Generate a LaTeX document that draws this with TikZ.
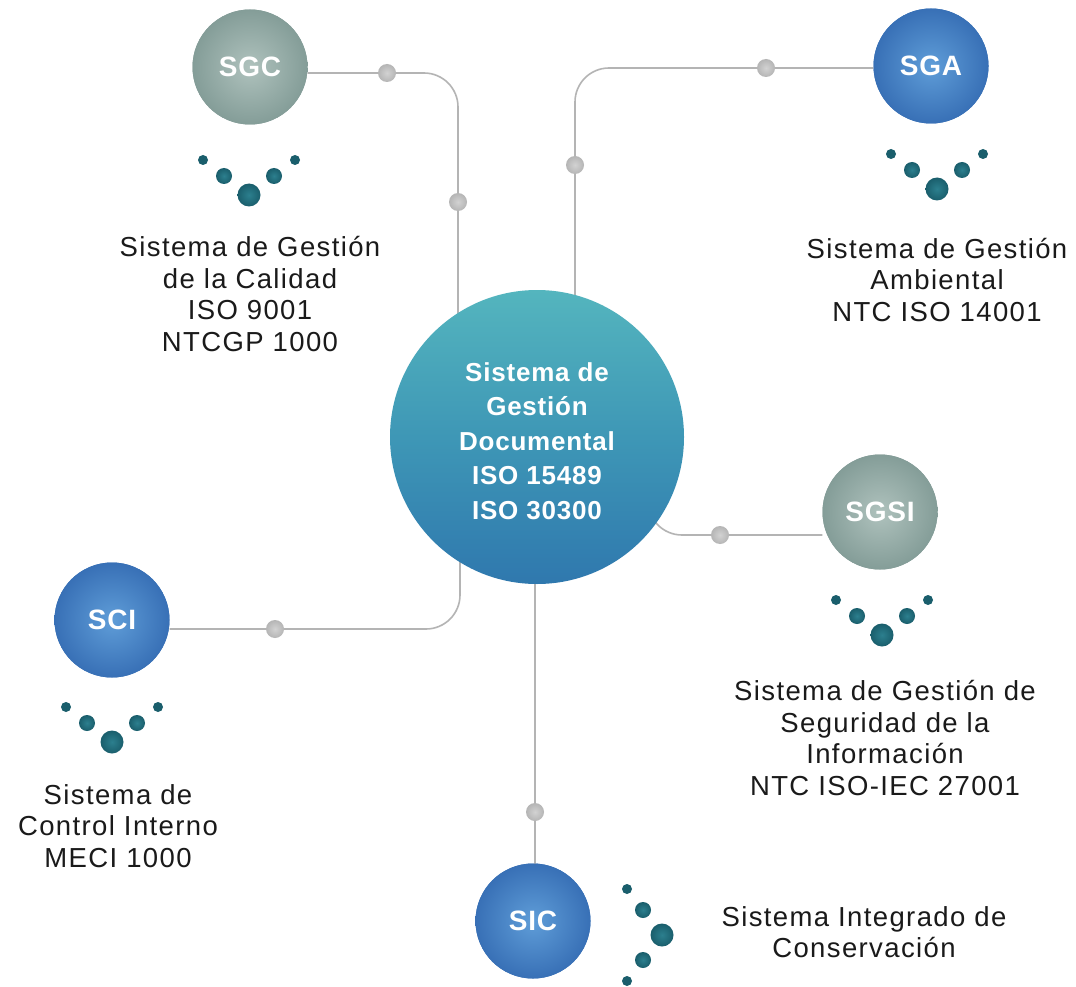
\documentclass[tikz,border=0pt]{standalone}
\usepackage{fontspec}
\setmainfont{Liberation Sans}
\newfontfamily\labfont{Liberation Sans}[LetterSpace=5]
\newfontfamily\ballfont{Liberation Sans}[LetterSpace=3]
\definecolor{linegray}{HTML}{B4B4B4}
\definecolor{knobin}{HTML}{D2D2D2}
\definecolor{knobout}{HTML}{B5B5B5}
\definecolor{grayin}{HTML}{AFC2BD}
\definecolor{grayout}{HTML}{849D98}
\definecolor{bluein}{HTML}{5F9DD8}
\definecolor{blueout}{HTML}{3870B6}
\definecolor{centtop}{HTML}{54B5BE}
\definecolor{centmid}{HTML}{3E97B6}
\definecolor{centbot}{HTML}{2F78AE}
\definecolor{dotc}{HTML}{1A5E6C}
\definecolor{dotin}{HTML}{2C7F8E}
\definecolor{txt}{HTML}{1A1A1A}
\begin{document}
\begin{tikzpicture}[x=1pt,y=-1pt,
  conn/.style={draw=linegray, line width=1.6pt, rounded corners=34pt},
  knob/.style={circle, inner sep=0pt, minimum size=18pt, inner color=knobin, outer color=knobout},
  ballbase/.style={circle, inner sep=0pt, minimum size=115pt, text=white,
     font=\ballfont\fontsize{28}{30}\selectfont\bfseries},
  grayball/.style={ballbase, inner color=grayin, outer color=grayout},
  blueball/.style={ballbase, inner color=bluein, outer color=blueout},
  lab/.style={align=center, text=txt, font=\labfont\fontsize{27.5}{31.6}\selectfont},
  cluster/.pic={
    \fill[dotc] (-46,-35) circle[radius=5];
    \fill[dotc] (46,-35) circle[radius=5];
    \shade[inner color=dotin, outer color=dotc] (-25,-19) circle[radius=8];
    \shade[inner color=dotin, outer color=dotc] (25,-19) circle[radius=8];
    \shade[inner color=dotin, outer color=dotc] (0,0) circle[radius=11.5];
  }
]
\useasboundingbox (0,0) rectangle (1076,987);
\fill[white] (0,0) rectangle (1076,987);

% spheres (placed first to get names)
\node[circle, inner sep=0pt, minimum size=294pt] (sgd) at (537,437) {};
\node[grayball] (sgc) at (250,67) {};
\node[blueball] (sga) at (931,66) {};
\node[grayball] (sgsi) at (880,512) {};
\node[blueball] (sci) at (112,620) {};
\node[blueball] (sic) at (533,921) {};

% connectors
\coordinate (c1) at (458,73);
\coordinate (c2) at (575,68);
\coordinate (c3) at (648,535);
\coordinate (c4) at (460,629);
\draw[conn] (sgc.east |- c1) -- (c1) -- (c1 |- sgd.center);
\draw[conn] (sga.west |- c2) -- (c2) -- (c2 |- sgd.center);
\draw[conn] (sgd.center -| c3) -- (c3) -- (sgsi.west |- c3);
\draw[conn] (sci.east |- c4) -- (c4) -- (c4 |- sgd.center);
\draw[conn] (sgd.center -| 535,0) -- (535,900);

% knobs on connectors
\node[knob] (k1) at (387,73) {};
\node[knob] (k2) at (458,202) {};
\node[knob] (k3) at (766,68) {};
\node[knob] (k4) at (575,165) {};
\node[knob] (k5) at (720,535) {};
\node[knob] (k6) at (275,629) {};
\node[knob] (k7) at (535,812) {};

% central sphere
\shade[top color=centtop, bottom color=centbot, middle color=centmid] (537,437) circle[radius=147];
\node[align=center, text=white, font=\ballfont\fontsize{26}{34.5}\selectfont\bfseries] (sgdtxt) at (537,441)
  {Sistema de\\Gestión\\Documental\\ISO 15489\\ISO 30300};

% outer spheres drawn on top
\node[grayball] (sgcb) at (250,67) {SGC};
\node[blueball] (sgab) at (931,66) {SGA};
\node[grayball] (sgsib) at (880,512) {SGSI};
\node[blueball] (scib) at (112,620) {SCI};
\node[blueball] (sicb) at (533,921) {SIC};

% dot clusters
\pic at (249,195) {cluster};
\pic at (937,189) {cluster};
\pic at (882,635) {cluster};
\pic at (112,742) {cluster};
\pic[rotate=90] at (662,935) {cluster};

% labels
\node[lab] (lsgc) at (250,294) {Sistema de Gestión\\de la Calidad\\ISO 9001\\NTCGP 1000};
\node[lab] (lsga) at (937,280) {Sistema de Gestión\\Ambiental\\NTC ISO 14001};
\node[lab] (lsgsi) at (885,738) {Sistema de Gestión de\\Seguridad de la\\Información\\NTC ISO-IEC 27001};
\node[lab] (lsci) at (118,826) {Sistema de\\Control Interno\\MECI 1000};
\node[lab] (lsic) at (864,932) {Sistema Integrado de\\Conservación};
\end{tikzpicture}
\end{document}
